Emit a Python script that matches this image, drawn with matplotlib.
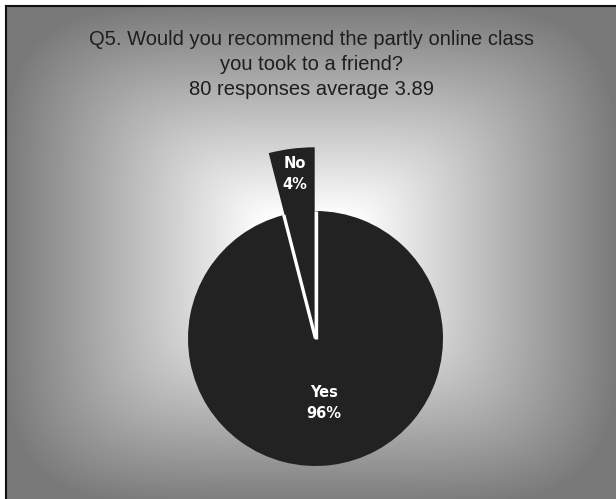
import numpy as np
import matplotlib.pyplot as plt
from matplotlib.lines import Line2D

answers = ['No', 'Yes']
shares = [4, 96]
title = ('Q5. Would you recommend the partly online class\n'
         'you took to a friend?\n'
         '80 responses average 3.89')

W, H = 616, 499
fig = plt.figure(figsize=(W / 100, H / 100), dpi=100)
fig.patch.set_facecolor('white')

# chart area: soft rounded-rectangle gradient, white in the middle, grey at the edges
x0, y0 = 6, 6
bg = fig.add_axes([x0 / W, 0, (W - x0) / W, (H - y0) / H])
xs = np.arange(x0, W) + 0.5
ys = np.arange(y0, H) + 0.5
gx, gy = np.meshgrid(xs, ys)
p = 5.0
t = ((np.abs(gx - 311) / 305) ** p + (np.abs(gy - 255) / 250) ** p) ** (1 / p)
t = np.clip((t - 0.15) / 0.85, 0, 1)
shade = 1 - 0.52 * t
bg.imshow(shade, cmap='gray', vmin=0, vmax=1, aspect='auto',
          interpolation='bilinear')
bg.set_axis_off()

# dark frame on the left and top
fig.add_artist(Line2D([5.5 / W, 5.5 / W], [0, 1 - 5.5 / H],
                      color='#111111', lw=1.5, transform=fig.transFigure))
fig.add_artist(Line2D([5.5 / W, 1], [1 - 5.5 / H, 1 - 5.5 / H],
                      color='#111111', lw=1.5, transform=fig.transFigure))

# pie
R = 127.5
cx, cy = 315.5, H - 338.5
half = 200
ax = fig.add_axes([(cx - half) / W, (cy - half) / H, 2 * half / W, 2 * half / H])
wedges, _ = ax.pie(shares, startangle=90, colors=['#222222', '#222222'],
                   explode=[0.05, 0], wedgeprops=dict(linewidth=0))
lim = half / R
ax.set_xlim(-lim, lim)
ax.set_ylim(-lim, lim)
ax.set_axis_off()

# the small slice sticks out past the rim
wedges[0].set_radius(1.45)

# white gaps along the edges of the big slice
yes = wedges[1]
for ang in [yes.theta1, yes.theta2]:
    a = np.deg2rad(ang)
    ax.plot([0, np.cos(a)], [0, np.sin(a)], color='white', lw=2.4,
            solid_capstyle='butt', zorder=3)

for w, name, share, dist in zip(wedges, answers, shares, [1.25, 0.51]):
    mid = np.deg2rad((w.theta1 + w.theta2) / 2)
    ax.text(w.center[0] + dist * np.cos(mid), w.center[1] + dist * np.sin(mid),
            f'{name}\n{share}%', ha='center', va='center', color='white',
            fontsize=10.5, fontweight='bold', family='DejaVu Sans',
            linespacing=1.45, zorder=4)

fig.text(312 / W, 1 - 30 / H, title, ha='center', va='top', fontsize=14.5,
         family='Liberation Sans', color='#1e1e1e', linespacing=1.4)

fig.savefig('out.png', dpi=100)
